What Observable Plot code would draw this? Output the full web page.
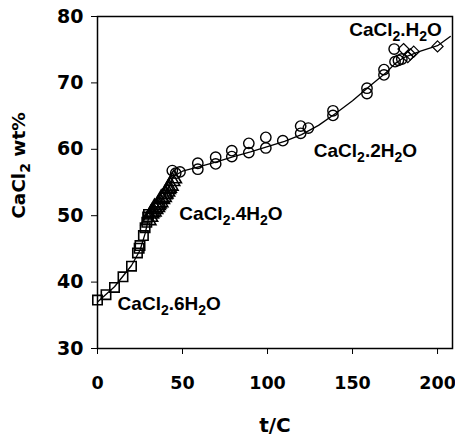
<!DOCTYPE html>
<html><head><meta charset="utf-8">
<script src="https://cdn.jsdelivr.net/npm/d3@7"></script>
<script src="https://cdn.jsdelivr.net/npm/@observablehq/plot@0.6"></script>
<style>body{margin:0;background:#fff} svg{display:block}</style>
</head><body><div id="chart"></div>
<script>
// CaCl2.6H2O (squares)
const hexT = [0, 5, 10, 15, 20, 23.5, 24.5, 25, 27, 28, 29, 29.5, 30];
const hexW = [37.3, 38.1, 39.2, 40.8, 42.4, 44.4, 45.1, 45.5, 47.0, 48.2, 49.0, 49.8, 50.2];
// CaCl2.4H2O (triangles)
const tetT = [30, 31, 32, 33, 34, 35, 36, 37, 38, 39, 40, 41, 42, 43, 44, 45, 31.5, 33.5, 35.5, 37.5, 39.5, 41.5];
const tetW = [49.3, 49.8, 50.5, 50.6, 51.0, 51.3, 51.8, 52.0, 52.5, 52.8, 53.3, 53.6, 54.2, 54.5, 55.2, 55.6, 50.3, 51.2, 51.6, 52.6, 53.2, 54.0];
// CaCl2.2H2O (circles)
const diT = [44, 46, 48.5, 59, 59, 69.5, 69.5, 79, 79, 89, 89, 99, 99, 109, 119.5, 119.5, 124, 138.5, 138.5, 158.5, 158.5, 168.5, 168.5, 174.5, 175, 177, 179];
const diW = [56.8, 56.4, 56.6, 57.9, 57.0, 58.8, 57.8, 59.8, 58.9, 60.9, 59.5, 61.8, 60.2, 61.3, 63.5, 62.4, 63.2, 65.8, 65.1, 69.2, 68.4, 72.0, 71.2, 75.1, 73.2, 73.4, 73.6];
// CaCl2.H2O (diamonds)
const monoT = [180, 182.5, 184, 186, 200];
const monoW = [75.1, 73.9, 74.3, 74.7, 75.5];
// fitted curve
const lineT = [0, 10, 20, 25, 28, 30, 35, 40, 45, 50, 60, 70, 80, 90, 100, 110, 120, 130, 140, 150, 160, 170, 175, 180, 190, 200, 207.5];
const lineW = [37.0, 39.3, 42.5, 44.8, 47.3, 49.6, 51.2, 53.2, 56.0, 56.7, 57.4, 58.1, 58.9, 59.6, 60.4, 61.2, 62.2, 63.6, 65.4, 67.3, 69.5, 71.6, 72.9, 73.8, 74.8, 75.6, 77.0];
// phase labels
const labelText = ["CaCl₂.6H₂O", "CaCl₂.4H₂O", "CaCl₂.2H₂O", "CaCl₂.H₂O"];
const labelT = [42.2, 78.5, 157.6, 175.3];
const labelW = [36.7, 50.2, 59.8, 78.0];
// axes
const xTicks = [0, 50, 100, 150, 200];
const yTicks = [30, 40, 50, 60, 70, 80];
const xTitle = "t/C";
const yTitle = "CaCl₂ wt%";

const rows = (t, w) => t.map((d, i) => ({t: d, w: w[i]}));
const labels = labelText.map((s, i) => ({text: s, t: labelT[i], w: labelW[i]}));

const chart = Plot.plot({
  width: 455, height: 438,
  marginLeft: 97, marginRight: 3, marginTop: 16, marginBottom: 90,
  style: {background: "white", color: "black", fontFamily: "DejaVu Sans"},
  x: {domain: [0, 208.8]},
  y: {domain: [30, 80]},
  marks: [
    Plot.frame({stroke: "black", strokeWidth: 1.5}),
    Plot.axisX({ticks: xTicks, tickSize: 6, tickPadding: 22, label: null, fontFamily: "DejaVu Sans", fontSize: 17.5, fontWeight: "bold"}),
    Plot.axisY({ticks: yTicks, tickSize: 6, tickPadding: 8, label: null, fontFamily: "DejaVu Sans", fontSize: 19, fontWeight: "bold"}),
    Plot.text([xTitle], {frameAnchor: "bottom", dy: 77, text: d => d, textAnchor: "middle", lineAnchor: "middle", fontFamily: "DejaVu Sans", fontSize: 20, fontWeight: "bold"}),
    Plot.text([yTitle], {frameAnchor: "left", dx: -78, dy: -17, rotate: -90, text: d => d, textAnchor: "middle", lineAnchor: "middle", className: "sub", fontFamily: "DejaVu Sans", fontSize: 18.5, fontWeight: "bold"}),
    Plot.line(rows(lineT, lineW), {x: "t", y: "w", stroke: "black", strokeWidth: 1.3}),
    Plot.dot(rows(hexT, hexW), {x: "t", y: "w", symbol: "square", r: 5.3, stroke: "black", fill: "none", strokeWidth: 1.6}),
    Plot.dot(rows(tetT, tetW), {x: "t", y: "w", symbol: "triangle", r: 5.5, stroke: "black", fill: "none", strokeWidth: 1.6}),
    Plot.dot(rows(diT, diW), {x: "t", y: "w", symbol: "circle", r: 5.2, stroke: "black", fill: "none", strokeWidth: 1.4}),
    Plot.dot(rows(monoT, monoW), {x: "t", y: "w", symbol: "diamond2", r: 5, stroke: "black", fill: "none", strokeWidth: 1.2}),
    Plot.text(labels, {x: "t", y: "w", text: "text", className: "sub", fontFamily: "Liberation Sans", fontSize: 19, fontWeight: "bold", textAnchor: "middle", lineAnchor: "middle"})
  ]
});
// render "₂" as a real subscript tspan
chart.querySelectorAll("g.sub text").forEach(el => {
  const s = el.textContent;
  el.textContent = "";
  const parts = s.split("₂");
  parts.forEach((p, i) => {
    if (p) {
      const t = document.createElementNS("http://www.w3.org/2000/svg", "tspan");
      t.textContent = p;
      if (i > 0) t.setAttribute("dy", "-5");
      el.appendChild(t);
    }
    if (i < parts.length - 1) {
      const sub = document.createElementNS("http://www.w3.org/2000/svg", "tspan");
      sub.textContent = "2";
      sub.setAttribute("font-size", "14");
      sub.setAttribute("dy", "5");
      el.appendChild(sub);
    }
  });
});
document.getElementById("chart").appendChild(chart);
</script>
</body></html>
